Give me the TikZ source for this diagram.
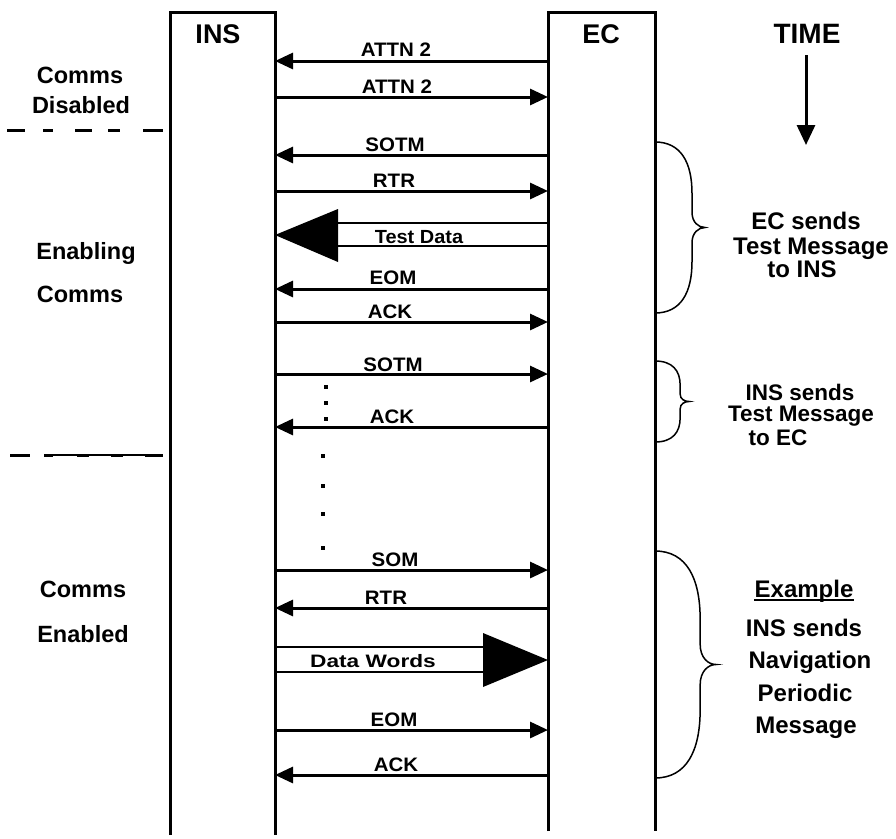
\documentclass[tikz,border=0pt]{standalone}
\usepackage{fontspec}
\setmainfont{Liberation Sans}
\usetikzlibrary{arrows.meta}
\newcommand{\mybrace}[4]{%
  \pgfmathsetmacro{\brH}{#3-#2}%
  \pgfmathsetmacro{\brM}{(#2+#3)/2}%
  \pgfmathsetmacro{\brX}{#1+0.74*(#4-#1)}%
  \draw[bracestyle] (#1,#2) .. controls ({#1+0.7*(\brX-#1)},#2) and (\brX,{#2+0.12*\brH}) .. (\brX,{#2+0.3*\brH})
    -- (\brX,{\brM-0.09*\brH}) .. controls (\brX,{\brM-0.03*\brH}) and ({#4-0.5*(#4-\brX)},\brM) .. (#4,\brM)
    .. controls ({#4-0.5*(#4-\brX)},\brM) and (\brX,{\brM+0.03*\brH}) .. (\brX,{\brM+0.09*\brH})
    -- (\brX,{#3-0.3*\brH}) .. controls (\brX,{#3-0.12*\brH}) and ({#1+0.7*(\brX-#1)},#3) .. (#1,#3);
}
\begin{document}
\begin{tikzpicture}[x=1pt,y=-1pt,
  lifeline/.style={line width=3pt},
  msg/.style={line width=3pt,-{Triangle[length=18pt,width=16pt]}},
  bigmsg/.style={line width=2.2pt},
  bracestyle/.style={line width=1.5pt},
  lbl/.style={anchor=base,inner sep=0pt,font=\bfseries\fontsize{19.5}{22}\selectfont,xscale=1.05},
  big/.style={anchor=base,inner sep=0pt,font=\bfseries\fontsize{27}{30}\selectfont},
  side/.style={anchor=base,inner sep=0pt,font=\bfseries\fontsize{23.5}{26}\selectfont},
  rside/.style={side,font=\bfseries\fontsize{24}{26}\selectfont},
  rsmall/.style={side,font=\bfseries\fontsize{22.5}{24}\selectfont,text depth=0pt},
  dashthick/.style={line width=3pt},
  dot/.style={fill=black}
]
\useasboundingbox (0,0) rectangle (896,838);
\fill[white] (0,0) rectangle (896,838);

% lifelines
\coordinate (insTL) at (170,12);
\coordinate (insTR) at (275,12);
\coordinate (ecTL) at (548,12);
\coordinate (ecTR) at (655,12);
\draw[lifeline] (170,835) -- (insTL) -- (insTR) -- (275,835);
\draw[lifeline] (548,831) -- (ecTL) -- (ecTR) -- (655,831);

% headings
\node[big] (hins) at (218,43) {INS};
\node[big] (hec) at (601,43) {EC};
\node[big,font=\bfseries\fontsize{28}{30}\selectfont] (htime) at (807,43) {TIME};
\coordinate (t0) at (806,55);
\coordinate (t1) at (806,145);
\draw[line width=3pt,-{Triangle[length=20pt,width=18pt]}] (t0) -- (t1);

% messages
\coordinate (i1) at (275,61);  \coordinate (e1) at (548,61);
\draw[msg] (e1) -- (i1);
\node[lbl] (l1) at (396,56) {ATTN 2};
\coordinate (i2) at (275,97);  \coordinate (e2) at (548,97);
\draw[msg] (i2) -- (e2);
\node[lbl] (l2) at (397,93) {ATTN 2};

\coordinate (i3) at (275,155); \coordinate (e3) at (548,155);
\draw[msg] (e3) -- (i3);
\node[lbl] (l3) at (395,151) {SOTM};
\coordinate (i4) at (275,191); \coordinate (e4) at (548,191);
\draw[msg] (i4) -- (e4);
\node[lbl] (l4) at (394,187) {RTR};

% test data (big arrow)
\coordinate (tdtip) at (275,235);
\coordinate (tdbt) at (338,209);
\coordinate (tdbb) at (338,262);
\coordinate (tde1) at (548,223); \coordinate (tdb1) at (338,223);
\coordinate (tde2) at (548,246); \coordinate (tdb2) at (338,246);
\draw[bigmsg] (tde1) -- (tdb1);
\draw[bigmsg] (tde2) -- (tdb2);
\fill (tdtip) -- (tdbt) -- (tdbb) -- cycle;
\node[lbl,font=\bfseries\fontsize{19}{22}\selectfont,xscale=1] (ltd) at (419,243) {Test Data};

\coordinate (i5) at (275,289); \coordinate (e5) at (548,289);
\draw[msg] (e5) -- (i5);
\node[lbl] (l5) at (393,284) {EOM};
\coordinate (i6) at (275,322); \coordinate (e6) at (548,322);
\draw[msg] (i6) -- (e6);
\node[lbl] (l6) at (390,318) {ACK};

\coordinate (i7) at (275,374); \coordinate (e7) at (548,374);
\draw[msg] (i7) -- (e7);
\node[lbl] (l7) at (393,371) {SOTM};
\coordinate (i8) at (275,427); \coordinate (e8) at (548,427);
\draw[msg] (e8) -- (i8);
\node[lbl] (l8) at (392,423) {ACK};

% dots
\foreach \dx/\dy [count=\k] in {326/387,326/403,326/419,323/456,323/486,323/514,323/548}
  \fill[dot] (\dx-2,\dy-2) rectangle (\dx+2,\dy+2);

\coordinate (i9) at (275,570); \coordinate (e9) at (548,570);
\draw[msg] (i9) -- (e9);
\node[lbl] (l9) at (395,566) {SOM};
\coordinate (i10) at (275,608); \coordinate (e10) at (548,608);
\draw[msg] (e10) -- (i10);
\node[lbl] (l10) at (386,604) {RTR};

% data words (big arrow)
\coordinate (dwtip) at (548,660);
\coordinate (dwbt) at (483,633);
\coordinate (dwbb) at (483,687);
\coordinate (dwi1) at (275,647); \coordinate (dwb1) at (483,647);
\coordinate (dwi2) at (275,672); \coordinate (dwb2) at (483,672);
\draw[bigmsg] (dwi1) -- (dwb1);
\draw[bigmsg] (dwi2) -- (dwb2);
\fill (dwtip) -- (dwbt) -- (dwbb) -- cycle;
\node[lbl,font=\bfseries\fontsize{18}{20}\selectfont,xscale=1.2] (ldw) at (373,667) {Data Words};

\coordinate (i11) at (275,730); \coordinate (e11) at (548,730);
\draw[msg] (i11) -- (e11);
\node[lbl] (l11) at (394,726) {EOM};
\coordinate (i12) at (275,775); \coordinate (e12) at (548,775);
\draw[msg] (e12) -- (i12);
\node[lbl] (l12) at (396,771) {ACK};

% phase separators
\foreach \a/\b in {7/25,43/53,75/92,108/120,143/163}
  \draw[dashthick] (\a,130) -- (\b,130);
\draw[line width=1.3pt] (44,455) -- (163,455);
\foreach \a/\b in {10/30,44/53,77/89,111/123,145/163}
  \draw[dashthick] (\a,455) -- (\b,455);

% left labels
\node[side] (cd1) at (80,83) {Comms};
\node[side] (cd2) at (81,113) {Disabled};
\node[side] (ce1) at (86,259) {Enabling};
\node[side] (ce2) at (80,302) {Comms};
\node[side] (cn1) at (83,597) {Comms};
\node[side] (cn2) at (83,642) {Enabled};

% braces
\mybrace{655}{142}{313}{705}
\mybrace{655}{361}{442}{689}
\mybrace{655}{551}{778}{716}

% right labels
\node[rside] (r1) at (806,229) {EC sends};
\node[rside] (r2) at (811,254) {Test Message};
\node[rside] (r3) at (802,277) {to INS};
\node[rsmall] (r4) at (800,400) {INS sends};
\node[rsmall] (r5) at (801,421) {Test Message};
\node[rsmall] (r6) at (778,445) {to EC};
\node[rside] (ex) at (804,597) {Example};
\draw[line width=1.5pt] ([yshift=-3pt]ex.base west) -- ([yshift=-3pt]ex.base east);
\node[rside] (r7) at (804,636) {INS sends};
\node[rside] (r8) at (810,668) {Navigation};
\node[rside] (r9) at (805,701) {Periodic};
\node[rside] (r10) at (806,733) {Message};
\end{tikzpicture}
\end{document}
